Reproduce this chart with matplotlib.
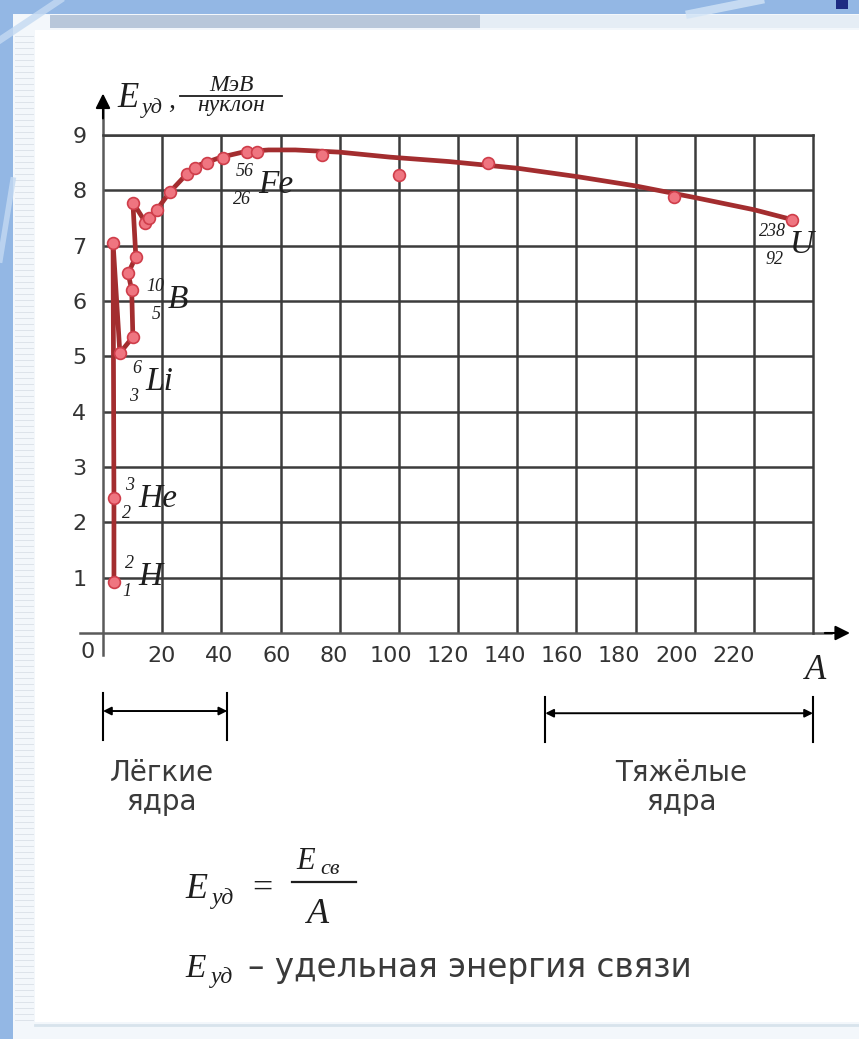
import matplotlib
matplotlib.use("Agg")
import matplotlib.pyplot as plt
from matplotlib.patches import Rectangle

W, H = 859, 1039

# mass number A and specific binding energy (MeV per nucleon) as drawn
curve_A = [3.7, 3.7, 3.4, 5.7, 10.1, 9.7, 8.5, 11.1, 10.1, 14.5, 18.2, 22.6,
           28.4, 33, 40, 48, 56, 65, 80, 97, 117, 140, 160, 180, 200, 220, 233]
curve_E = [0.93, 2.44, 7.05, 5.06, 5.35, 6.2, 6.5, 6.8, 7.78, 7.41, 7.65, 7.97,
           8.3, 8.47, 8.6, 8.7, 8.73, 8.73, 8.69, 8.6, 8.52, 8.4, 8.25, 8.08,
           7.87, 7.65, 7.47]

points_A = [3.7, 3.7, 3.4, 5.7, 10.1, 9.7, 8.5, 11.1, 10.1, 14.2, 15.5, 18.2,
            22.6, 28.4, 31, 35, 40.5, 48.6, 52, 74, 100, 130, 193, 233]
points_E = [0.93, 2.44, 7.05, 5.06, 5.35, 6.2, 6.5, 6.8, 7.78, 7.41, 7.5, 7.65,
            7.97, 8.3, 8.4, 8.5, 8.58, 8.7, 8.7, 8.64, 8.28, 8.5, 7.88, 7.47]

x_ticks = [20, 40, 60, 80, 100, 120, 140, 160, 180, 200, 220]
y_ticks = [1, 2, 3, 4, 5, 6, 7, 8, 9]

nuclide_symbols = ["H", "He", "Li", "B", "Fe", "U"]
nuclide_mass = ["2", "3", "6", "10", "56", "238"]
nuclide_charge = ["1", "2", "3", "5", "26", "92"]

light_range = [0, 42]
heavy_range = [149.5, 240]

SERIF = "Liberation Serif"
SANS = "DejaVu Sans"
GREY = "#3a3a3a"
INK = "#1e1e1e"

plt.rcParams["font.family"] = SANS

fig = plt.figure(figsize=(W / 100, H / 100), dpi=100, facecolor="#93b7e4")

# page background in pixel coordinates
bg = fig.add_axes([0, 0, 1, 1])
bg.set_xlim(0, W)
bg.set_ylim(H, 0)
bg.axis("off")
bg.set_zorder(0)
bg.add_patch(Rectangle((13, 14), W - 13, H - 14, color="#f3f7fb", lw=0))
bg.add_patch(Rectangle((35, 30), W - 35, 992, color="white", lw=0))
for yy in range(36, 1022, 6):
    bg.plot([15, 33], [yy, yy], color="#dde3ea", lw=0.7)
bg.add_patch(Rectangle((50, 15), 430, 13, color="#b8c7da", lw=0))
bg.add_patch(Rectangle((480, 15), W - 480, 13, color="#e5edf5", lw=0))
bg.plot([35, W], [1025, 1025], color="#d8e3ec", lw=2)
bg.add_patch(Rectangle((836, 0), 12, 9, color="#1d2b82", lw=0))
# light swooshes in the blue frame
bg.plot([0, 60], [40, 0], color="#c4daf2", lw=5, alpha=0.8)
bg.plot([0, 13], [260, 180], color="#c4daf2", lw=4, alpha=0.8)
bg.plot([690, 760], [14, 0], color="#d2e4f6", lw=6, alpha=0.8)

# chart axes: A from 0 to 240, E from 0 to 9
ax = fig.add_axes([103 / W, 1 - 633 / H, 710 / W, 498 / H])
ax.set_zorder(1)
ax.set_facecolor("none")
ax.set_xlim(0, 240)
ax.set_ylim(0, 9)
# the printed A labels sit slightly left of their grid lines
ax.set_xticks([v * 0.966 + 0.6 for v in x_ticks], [str(v) for v in x_ticks])
ax.set_xticks(x_ticks, minor=True)
ax.set_yticks(y_ticks, [str(v) for v in y_ticks])
ax.tick_params(which="both", length=0, labelsize=16, colors="#333333")
ax.tick_params(axis="x", pad=9)
ax.tick_params(axis="y", pad=12)
ax.grid(True, axis="x", which="minor", color="#3c3c3c", lw=1.8)
ax.grid(True, axis="y", which="major", color="#3c3c3c", lw=1.8)
ax.set_axisbelow(True)
for side in ["left", "bottom"]:
    ax.spines[side].set_visible(False)
for side in ["top", "right"]:
    ax.spines[side].set_color("#3c3c3c")
    ax.spines[side].set_linewidth(1.8)

# axes with arrows
ax.plot([0, 0], [-0.4, 9.5], color="#5a5a5a", lw=1.8, clip_on=False, zorder=2)
ax.plot([-7.8, 246], [0, 0], color="#5a5a5a", lw=1.8, clip_on=False, zorder=2)
ax.annotate("", xy=(0, 9.75), xytext=(0, 9.3), annotation_clip=False,
            arrowprops=dict(arrowstyle="-|>", color="black", lw=1.5,
                            mutation_scale=22, shrinkA=0, shrinkB=0))
ax.annotate("", xy=(252.5, 0), xytext=(244, 0), annotation_clip=False,
            arrowprops=dict(arrowstyle="-|>", color="black", lw=1.5,
                            mutation_scale=22, shrinkA=0, shrinkB=0))
bg.text(88, 652, "0", ha="center", va="center", fontsize=16, color="#333333")
bg.text(816, 679, "A", ha="center", va="baseline", fontsize=25,
        family=SERIF, style="italic", color=INK)

# curve and measured nuclei
ax.plot(curve_A, curve_E, color="#a32d2f", lw=3.4, solid_joinstyle="round",
        zorder=3)
ax.plot(points_A, points_E, "o", ms=8.5, mfc="#ef7580", mec="#cf3d4a", mew=1.2,
        zorder=4)

# nuclide labels: symbol anchored at left/baseline, numbers to the left
sym_anchor_A = [11.8, 11.8, 14.2, 22.0, 52.4, 232.3]
sym_anchor_E = [0.87, 2.28, 4.39, 5.87, 7.95, 6.87]
for s, m, z, xa, ya in zip(nuclide_symbols, nuclide_mass, nuclide_charge,
                           sym_anchor_A, sym_anchor_E):
    ax.text(xa, ya, s, ha="left", va="baseline", fontsize=24, family=SERIF,
            style="italic", color=INK, zorder=5)
    ax.annotate(m, (xa, ya), xytext=(-4, 17), textcoords="offset pixels",
                ha="right", va="baseline", fontsize=13, family=SERIF,
                style="italic", color=INK, zorder=5)
    ax.annotate(z, (xa, ya), xytext=(-7, -11), textcoords="offset pixels",
                ha="right", va="baseline", fontsize=13, family=SERIF,
                style="italic", color=INK, zorder=5)

# ranges of light and heavy nuclei
for (a0, a1), (e_top, e_bot, e_mid) in zip(
        [light_range, heavy_range], [(-1.08, -1.93, -1.41), (-1.16, -1.97, -1.45)]):
    for a in (a0, a1):
        ax.plot([a, a], [e_top, e_bot], color="black", lw=1.5, clip_on=False)
    ax.annotate("", xy=(a1, e_mid), xytext=(a0, e_mid), annotation_clip=False,
                arrowprops=dict(arrowstyle="<|-|>", color="black", lw=1.4,
                                mutation_scale=12, shrinkA=0, shrinkB=0))
ax.text(sum(light_range) / 2 - 1, -2.8, "Лёгкие\nядра", ha="center", va="center",
        fontsize=20, color=GREY, linespacing=1.05)
ax.text(195.5, -2.8, "Тяжёлые\nядра", ha="center", va="center",
        fontsize=20, color=GREY, linespacing=1.05)

# y axis title E_уд, МэВ/нуклон
it = dict(family=SERIF, style="italic", color=INK, va="baseline")
bg.text(117, 107, "E", fontsize=25, ha="left", **it)
bg.text(142, 113, "уд", fontsize=16, ha="left", **it)
bg.text(168, 108, ",", fontsize=20, ha="left", **it)
bg.text(231, 91, "МэВ", fontsize=17, ha="center", **it)
bg.plot([180, 282], [96, 96], color=INK, lw=1.3)
bg.text(231, 111, "нуклон", fontsize=17, ha="center", **it)

# formula under the chart
bg.text(185, 898, "E", fontsize=26, ha="left", **it)
bg.text(212, 904, "уд", fontsize=17, ha="left", **it)
bg.text(262, 898, "=", fontsize=26, ha="center", family=SERIF,
        color=INK, va="baseline")
bg.text(296, 869, "E", fontsize=22, ha="left", **it)
bg.text(320, 874, "св", fontsize=16, ha="left", **it)
bg.plot([292, 356], [882, 882], color=INK, lw=1.6)
bg.text(318, 923, "A", fontsize=26, ha="center", **it)

bg.text(185, 977, "E", fontsize=24, ha="left", **it)
bg.text(211, 983, "уд", fontsize=17, ha="left", **it)
bg.text(248, 977, "– удельная энергия связи", fontsize=23.5, ha="left",
        va="baseline", color=GREY)

fig.savefig("out.png", dpi=100, facecolor=fig.get_facecolor())
